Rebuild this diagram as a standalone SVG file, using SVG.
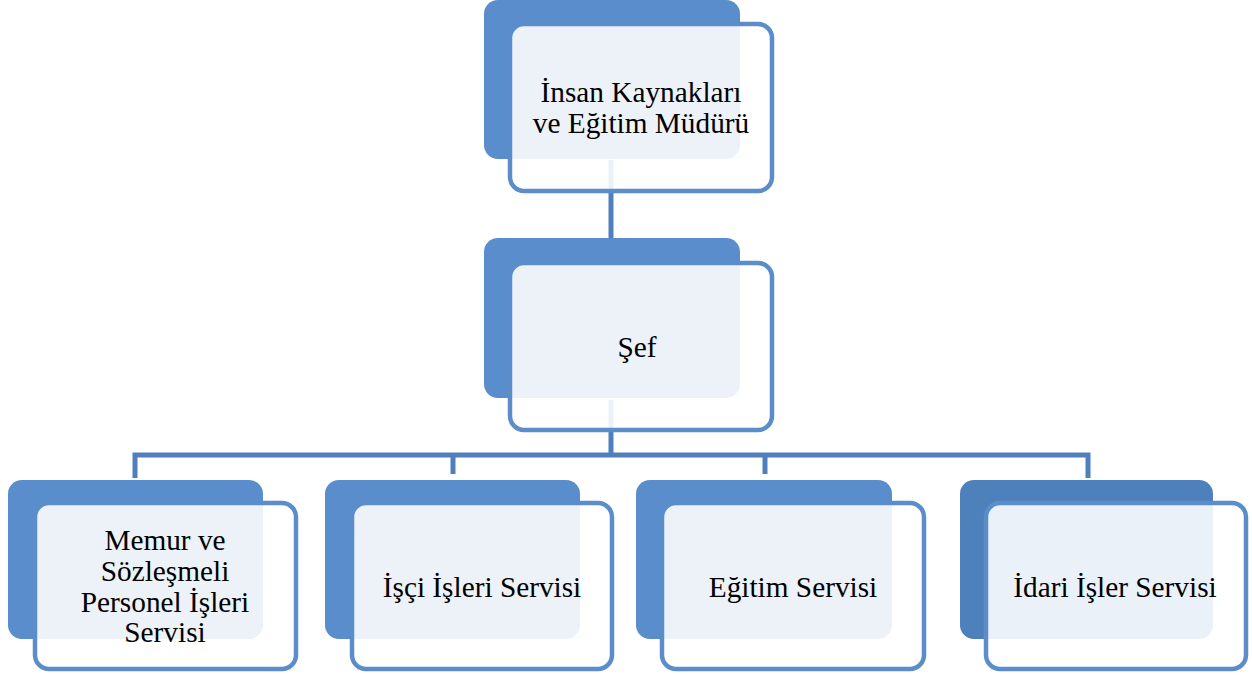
<svg xmlns="http://www.w3.org/2000/svg" width="1252" height="675" viewBox="0 0 1252 675">
<style>
.back{fill:#5A8DCB;}
.back4{fill:#4E80BC;}
.front{fill:#ffffff;fill-opacity:0.89;stroke:#5B8DCB;stroke-width:4.5;}
.conn{fill:none;stroke:#4F80BD;stroke-width:5;}
.t{font-family:'Liberation Serif','Times New Roman',Times,serif;font-size:29.3px;fill:#000;text-anchor:middle;}
</style>
<rect width="1252" height="675" fill="#ffffff"/>
<g id="backs">
<rect class="back" x="484" y="0" width="256" height="159" rx="14"/>
<rect class="back" x="484" y="238" width="256" height="160" rx="14"/>
<rect class="back" x="8" y="480" width="255" height="159" rx="14"/>
<rect class="back" x="325" y="480" width="255" height="159" rx="14"/>
<rect class="back" x="636" y="480" width="256" height="159" rx="14"/>
<rect class="back4" x="960" y="480" width="253" height="159" rx="14"/>
</g>
<g id="connectors">
<line class="conn" x1="611" y1="160" x2="611" y2="238"/>
<line class="conn" x1="611" y1="400" x2="611" y2="455"/>
<polyline class="conn" points="135,478 135,455 1088,455 1088,478"/>
<line class="conn" x1="453" y1="455" x2="453" y2="474"/>
<line class="conn" x1="765" y1="455" x2="765" y2="474"/>
</g>
<g id="n1">
<rect class="front" x="510" y="24" width="262" height="167" rx="14"/>
<text class="t" x="641" y="102">İnsan Kaynakları</text>
<text class="t" x="641" y="133">ve Eğitim Müdürü</text>
</g>
<g id="n2">
<rect class="front" x="510" y="263" width="262" height="167" rx="14"/>
<text class="t" x="637" y="357">Şef</text>
</g>
<g id="n3">
<rect class="front" x="35" y="503" width="261" height="166" rx="14"/>
<text class="t" x="165" y="550">Memur ve</text>
<text class="t" x="165" y="581">Sözleşmeli</text>
<text class="t" x="165" y="612">Personel İşleri</text>
<text class="t" x="165" y="642">Servisi</text>
</g>
<g id="n4">
<rect class="front" x="352" y="503" width="260" height="166" rx="14"/>
<text class="t" x="482" y="597">İşçi İşleri Servisi</text>
</g>
<g id="n5">
<rect class="front" x="662" y="503" width="262" height="166" rx="14"/>
<text class="t" x="793" y="597">Eğitim Servisi</text>
</g>
<g id="n6">
<rect class="front" x="986" y="503" width="260" height="166" rx="14"/>
<text class="t" x="1115" y="597">İdari İşler Servisi</text>
</g>
</svg>
